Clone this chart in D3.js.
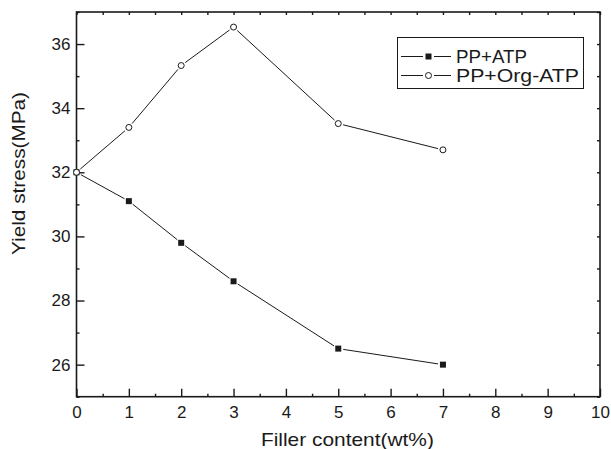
<!DOCTYPE html>
<html>
<head>
<meta charset="utf-8">
<script src="https://cdn.jsdelivr.net/npm/d3@7"></script>
<style>
  html, body { margin: 0; padding: 0; background: #fff; }
  svg { display: block; font-family: "Liberation Sans", Arial, sans-serif; }
</style>
</head>
<body>
<div id="chart"></div>
<script>
// données
const fillerContent = [0, 1, 2, 3, 5, 7];
const ppAtp = [32.0, 31.1, 29.8, 28.6, 26.5, 26.0];
const ppOrgAtp = [32.0, 33.4, 35.33, 36.53, 33.52, 32.7];
const seriesNames = ["PP+ATP", "PP+Org-ATP"];
const xTicks = [0, 1, 2, 3, 4, 5, 6, 7, 8, 9, 10];
const yTicks = [26, 28, 30, 32, 34, 36];

const width = 611, height = 449;
const margin = { top: 12, right: 11, bottom: 52.3, left: 76.5 };
const innerWidth = width - margin.left - margin.right;
const innerHeight = height - margin.top - margin.bottom;
const ink = "#1a1a1a";

const svg = d3.select("#chart").append("svg")
  .attr("width", width).attr("height", height);
const g = svg.append("g").attr("transform", `translate(${margin.left},${margin.top})`);

const x = d3.scaleLinear().domain([0, 10]).range([0, innerWidth]);
const y = d3.scaleLinear().domain([25, 37]).range([innerHeight, 0]);

const xMinor = d3.range(0.5, 10, 1);
const yMinor = d3.range(25, 37.1, 1).filter(v => v % 2 === 1);

// Axes (ticks vers l'intérieur)
function styleAxis(sel) {
  sel.select(".domain").remove();
  sel.selectAll("line").attr("stroke", ink).attr("stroke-width", 1.4);
  sel.selectAll("text").attr("fill", ink).attr("font-size", 17);
}
function noLabels(sel) {
  sel.select(".domain").remove();
  sel.selectAll("text").remove();
  sel.selectAll("line").attr("stroke", ink).attr("stroke-width", 1.4);
}

g.append("g").attr("transform", `translate(0,${innerHeight})`)
  .call(d3.axisBottom(x).tickValues(xTicks).tickFormat(d3.format("d")).tickSizeInner(-8).tickSizeOuter(0).tickPadding(9.2))
  .call(styleAxis);
g.append("g").attr("transform", `translate(0,${innerHeight})`)
  .call(d3.axisBottom(x).tickValues(xMinor).tickSizeInner(-3).tickSizeOuter(0))
  .call(noLabels);

g.append("g")
  .call(d3.axisLeft(y).tickValues(yTicks).tickFormat(d3.format("d")).tickSizeInner(-8).tickSizeOuter(0).tickPadding(6))
  .call(styleAxis);
g.append("g")
  .call(d3.axisLeft(y).tickValues(yMinor).tickSizeInner(-3).tickSizeOuter(0))
  .call(noLabels);

// Axes miroirs en haut et à droite
g.append("g")
  .call(d3.axisTop(x).tickValues(xTicks.concat(xMinor)).tickSizeInner(-3).tickSizeOuter(0))
  .call(noLabels);
g.append("g").attr("transform", `translate(${innerWidth},0)`)
  .call(d3.axisRight(y).tickValues(yTicks.concat(yMinor)).tickSizeInner(-3).tickSizeOuter(0))
  .call(noLabels);

// Cadre
g.append("rect").attr("width", innerWidth).attr("height", innerHeight)
  .attr("fill", "none").attr("stroke", ink).attr("stroke-width", 1.6);

// Titres des axes
svg.append("text")
  .attr("x", 347.4).attr("y", 446)
  .attr("text-anchor", "middle").attr("font-size", 18.5).attr("fill", ink)
  .attr("textLength", 173).attr("lengthAdjust", "spacingAndGlyphs")
  .text("Filler content(wt%)");
svg.append("text")
  .attr("transform", "translate(24.5,173.5) rotate(-90)")
  .attr("text-anchor", "middle").attr("font-size", 19).attr("fill", ink)
  .attr("textLength", 163).attr("lengthAdjust", "spacingAndGlyphs")
  .text("Yield stress(MPa)");

// Séries : segments interrompus autour des symboles
const gap = 5;
function drawSeries(values, shape) {
  const pts = fillerContent.map((d, i) => [x(d), y(values[i])]);
  for (let i = 0; i < pts.length - 1; i++) {
    const [x1, y1] = pts[i], [x2, y2] = pts[i + 1];
    const len = Math.hypot(x2 - x1, y2 - y1);
    const ux = (x2 - x1) / len, uy = (y2 - y1) / len;
    g.append("line")
      .attr("x1", x1 + ux * gap).attr("y1", y1 + uy * gap)
      .attr("x2", x2 - ux * gap).attr("y2", y2 - uy * gap)
      .attr("stroke", ink).attr("stroke-width", 1);
  }
  pts.forEach(p => drawMarker(g, p[0], p[1], shape));
}

function drawMarker(sel, cx, cy, shape) {
  if (shape === "square") {
    sel.append("rect").attr("x", cx - 3).attr("y", cy - 3)
      .attr("width", 6).attr("height", 6).attr("fill", ink);
  } else {
    sel.append("circle").attr("cx", cx).attr("cy", cy).attr("r", 3)
      .attr("fill", "#fff").attr("stroke", ink).attr("stroke-width", 1);
  }
}

drawSeries(ppAtp, "square");
drawSeries(ppOrgAtp, "circle");

// Légende
const legend = svg.append("g");
legend.append("rect").attr("x", 397.5).attr("y", 37.5).attr("width", 186).attr("height", 51)
  .attr("fill", "#fff").attr("stroke", ink).attr("stroke-width", 1);
const shapes = ["square", "circle"];
const legendWidths = [71, 123];
seriesNames.forEach((name, i) => {
  const ly = 56.5 + i * 19;
  legend.append("line").attr("x1", 401).attr("x2", 423).attr("y1", ly).attr("y2", ly)
    .attr("stroke", ink).attr("stroke-width", 1);
  legend.append("line").attr("x1", 434).attr("x2", 451).attr("y1", ly).attr("y2", ly)
    .attr("stroke", ink).attr("stroke-width", 1);
  drawMarker(legend, 428.5, ly, shapes[i]);
  legend.append("text").attr("x", 456).attr("y", ly + 6.5)
    .attr("font-size", 18).attr("fill", ink)
    .attr("textLength", legendWidths[i]).attr("lengthAdjust", "spacingAndGlyphs")
    .text(name);
});
</script>
</body>
</html>
